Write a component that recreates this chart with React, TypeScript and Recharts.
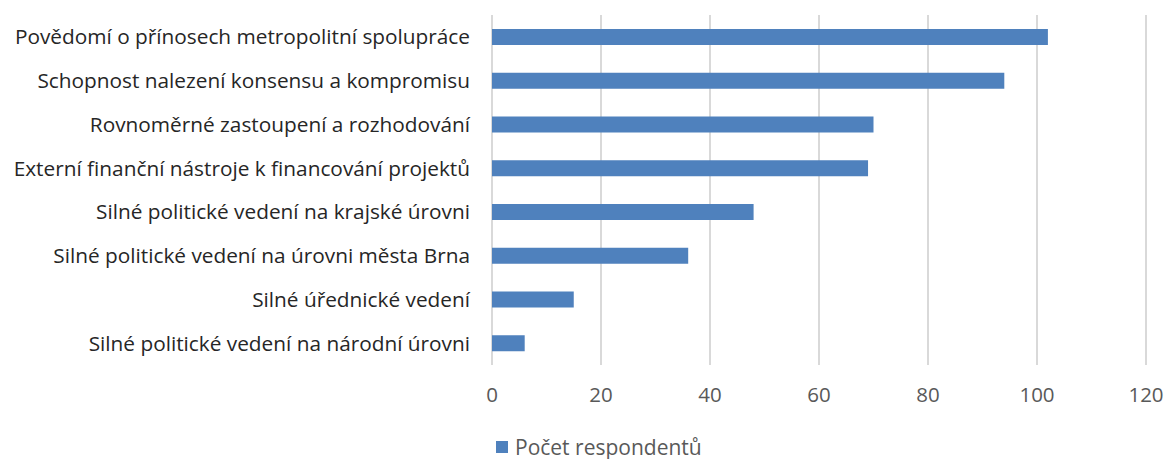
import { BarChart, Bar, XAxis, YAxis, CartesianGrid, Legend } from 'recharts'

const categories = [
  'Povědomí o přínosech metropolitní spolupráce',
  'Schopnost nalezení konsensu a kompromisu',
  'Rovnoměrné zastoupení a rozhodování',
  'Externí finanční nástroje k financování projektů',
  'Silné politické vedení na krajské úrovni',
  'Silné politické vedení na úrovni města Brna',
  'Silné úřednické vedení',
  'Silné politické vedení na národní úrovni',
]
const respondents = [102, 94, 70, 69, 48, 36, 15, 6]
const xTicks = [0, 20, 40, 60, 80, 100, 120]
const seriesName = 'Počet respondentů'

const data = categories.map((name, i) => ({ name, value: respondents[i] }))

const FONT = '"Open Sans", sans-serif'

function LegendContent() {
  return (
    <div style={{ display: 'flex', alignItems: 'center', fontFamily: FONT, fontSize: 21, color: '#595959' }}>
      <span style={{ width: 12, height: 12, background: '#4f81bd', display: 'inline-block', marginRight: 7 }} />
      <span>{seriesName}</span>
    </div>
  )
}

export default function App() {
  return (
    <div style={{ position: 'absolute', left: 0, top: 0, background: '#fff' }}>
      <BarChart
        width={1167}
        height={459}
        data={data}
        layout="vertical"
        margin={{ top: 15, right: 21, left: 0, bottom: 34 }}
      >
        <CartesianGrid horizontal={false} stroke="#d9d9d9" strokeWidth={2} />
        <XAxis
          type="number"
          domain={[0, 120]}
          ticks={xTicks}
          axisLine={false}
          tickLine={false}
          tickSize={0}
          tickMargin={22}
          height={60}
          tick={{ fill: '#595959', fontSize: 20.5, fontFamily: FONT }}
        />
        <YAxis
          type="category"
          dataKey="name"
          width={492}
          axisLine={false}
          tickLine={false}
          tickSize={0}
          tickMargin={22}
          tick={{ fill: '#262626', fontSize: 20.8, fontFamily: FONT }}
        />
        <Legend
          layout="horizontal"
          verticalAlign="middle"
          align="center"
          content={<LegendContent />}
          wrapperStyle={{ top: 433, left: 496, width: 280 }}
        />
        <Bar
          dataKey="value"
          name={seriesName}
          fill="#4f81bd"
          barSize={16}
          isAnimationActive={false}
        />
      </BarChart>
    </div>
  )
}
